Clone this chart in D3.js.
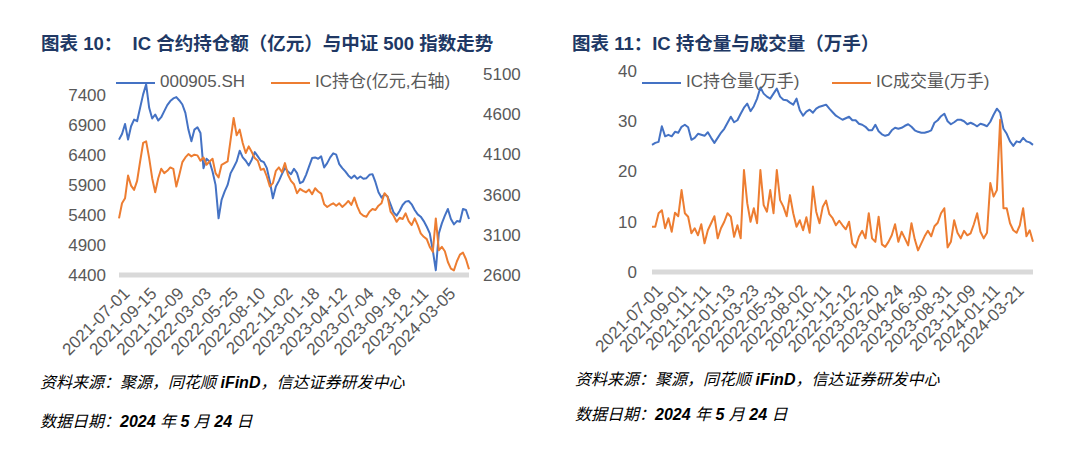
<!DOCTYPE html>
<html>
<head>
<meta charset="utf-8">
<script src="https://cdn.jsdelivr.net/npm/d3@7"></script>
<style>
  body { margin: 0; background: #fff; }
  svg { display: block; font-family: "Liberation Sans", Arial, "Noto Sans CJK SC", sans-serif; }
</style>
</head>
<body>
<script>
// one value every 6 trading days, 2021-07-01 .. 2024-05-24
const STEP = 6;

// 中证500 (left axis of chart 10)
const csi500 = [6656,6751,6918,6656,6879,6991,6963,7186,7410,7577,
  7186,7008,7075,6974,7030,7131,7231,7298,7343,7365,
  7309,7242,7103,6823,6628,6823,6862,6768,6181,6338,
  6293,6126,5902,5344,5651,5790,5902,6098,6193,6293,
  6472,6360,6304,6226,6321,6449,6377,6304,6282,6181,
  5958,5679,5874,5969,6081,6181,6126,6081,6170,6098,
  5930,5958,6070,6209,6349,6360,6338,6377,6193,6265,
  6360,6427,6405,6248,6181,6126,6059,6014,6059,6003,
  6042,6003,6014,6070,6081,5947,5779,5690,5746,5707,
  5578,5444,5389,5467,5567,5623,5634,5578,5484,5411,
  5372,5299,5204,5093,4813,4479,5093,5260,5389,5500,
  5333,5244,5299,5288,5500,5483,5333];

// IC持仓 亿元 (right axis of chart 10)
const icOiValue = [3304,3492,3554,3837,3712,3658,3771,4012,4242,4262,
  4054,3804,3629,3804,3921,3867,3896,3938,3921,3700,
  3846,4004,4062,4104,4075,4096,4088,4021,4062,3971,
  4012,4046,3867,3812,3971,3992,4012,4283,4554,4337,
  4408,4242,4117,4200,4129,4054,4021,3908,3921,3825,
  3700,3742,3896,3938,3879,3992,3846,3771,3729,3617,
  3671,3646,3629,3662,3604,3679,3638,3612,3479,3446,
  3471,3492,3462,3492,3446,3479,3521,3471,3562,3450,
  3367,3337,3325,3388,3421,3408,3462,3492,3617,3575,
  3388,3337,3262,3312,3296,3367,3271,3221,3304,3221,
  3117,3075,3046,2950,2888,3304,2908,2950,2896,2762,
  2679,2658,2771,2854,2879,2796,2671];

// IC持仓量 万手 (chart 11)
const icOi = [25.3,25.7,25.9,29.0,27.0,27.3,27.0,27.9,27.7,28.9,
  29.3,28.8,26.3,26.7,27.5,27.3,27.1,27.8,26.7,25.7,
  26.7,27.7,28.5,29.7,30.9,29.8,30.2,31.5,32.7,33.5,
  32.0,33.0,34.5,36.7,35.5,34.9,34.5,35.5,36.5,34.9,
  34.3,34.2,33.7,33.3,34.5,32.2,31.1,31.9,32.3,31.7,
  32.5,32.9,33.1,33.3,32.5,31.8,31.1,30.7,30.3,30.6,
  30.9,30.2,30.2,29.5,29.3,28.9,28.2,28.2,29.3,28.0,
  27.4,27.1,27.3,28.2,28.7,28.5,28.7,29.1,29.4,28.9,
  28.2,27.9,27.7,27.7,27.9,28.2,29.7,30.2,31.0,31.5,
  30.0,29.4,29.8,30.3,30.3,30.0,29.4,29.7,29.4,29.0,
  29.5,29.3,29.0,29.9,31.3,32.5,31.7,28.5,27.5,26.0,
  25.1,26.0,25.8,26.7,26.0,25.8,25.3];

// IC成交量 万手 (chart 11)
const icVolume = [9.0,9.0,11.7,12.3,8.7,10.7,8.0,11.8,11.1,16.3,
  11.7,11.0,7.7,8.7,7.3,9.5,5.7,8.3,9.7,11.1,
  6.7,8.7,10.0,11.7,11.0,7.0,9.3,6.7,20.3,13.7,
  10.0,12.7,9.7,20.3,13.3,12.0,16.3,11.7,20.3,14.3,
  13.0,11.1,15.3,11.7,9.0,10.3,8.3,10.9,7.8,17.0,
  12.0,9.7,13.0,14.2,11.5,10.7,9.3,10.2,9.3,8.5,
  10.0,5.7,4.9,7.0,8.2,6.7,11.7,6.7,6.0,11.0,
  5.5,5.0,6.0,7.3,9.5,6.0,8.0,6.7,5.3,9.7,
  6.5,4.3,5.7,7.1,8.2,7.1,9.1,9.8,11.7,12.7,
  4.9,6.0,10.3,7.8,6.7,8.2,7.3,7.7,9.5,11.7,
  8.0,6.7,7.8,17.7,15.0,16.3,30.3,12.7,12.7,9.7,
  8.3,7.8,9.3,12.7,7.1,8.3,6.0];

// category labels (every 54 / 44 trading days)
const leftTicks = ["2021-07-01","2021-09-15","2021-12-09","2022-03-03","2022-05-25","2022-08-10",
  "2022-11-02","2023-01-18","2023-04-12","2023-07-04","2023-09-18","2023-12-11","2024-03-05"];
const rightTicks = ["2021-07-01","2021-09-01","2021-11-11","2022-01-13","2022-03-23","2022-05-31",
  "2022-08-02","2022-10-11","2022-12-12","2023-02-20","2023-04-24","2023-06-30","2023-08-31",
  "2023-11-09","2024-01-11","2024-03-21"];

const leftAxisTicks = [4400, 4900, 5400, 5900, 6400, 6900, 7400];
const rightAxisTicks = [2600, 3100, 3600, 4100, 4600, 5100];
const volAxisTicks = [0, 10, 20, 30, 40];

const BLUE = "#4472c4", ORANGE = "#ed7d31", GREY = "#595959";

const svg = d3.select("body").append("svg")
  .attr("width", 1080)
  .attr("height", 457);

svg.append("rect").attr("width", 1080).attr("height", 457).attr("fill", "#fff");

// titles
function title(x, y, txt) {
  svg.append("text")
    .attr("x", x).attr("y", y)
    .attr("dominant-baseline", "middle")
    .style("white-space", "pre")
    .attr("font-size", 18.5)
    .attr("font-weight", "bold")
    .attr("fill", "#203864")
    .text(txt);
}
title(41, 45, "图表 10：  IC 合约持仓额（亿元）与中证 500 指数走势");
title(572, 45, "图表 11：IC 持仓量与成交量（万手）");

// footers
function footer(x, y, parts) {
  const t = svg.append("text")
    .attr("x", x).attr("y", y)
    .attr("dominant-baseline", "middle")
    .attr("font-size", 16)
    .attr("font-style", "italic")
    .attr("fill", "#000")
    .style("white-space", "pre");
  parts.forEach(p => {
    t.append("tspan").attr("font-weight", p[1] ? "bold" : "normal").text(p[0]);
  });
}
footer(40, 384, [["资料来源：聚源，同花顺 ", 0], ["iFinD", 1], ["，信达证券研发中心", 0]]);
footer(40, 423, [["数据日期：", 0], ["2024", 1], [" 年 ", 0], ["5", 1], [" 月 ", 0], ["24", 1], [" 日", 0]]);
footer(575, 381, [["资料来源：聚源，同花顺 ", 0], ["iFinD", 1], ["，信达证券研发中心", 0]]);
footer(575, 416, [["数据日期：", 0], ["2024", 1], [" 年 ", 0], ["5", 1], [" 月 ", 0], ["24", 1], [" 日", 0]]);

function drawChart(opt) {
  const g = svg.append("g");
  const lastDay = (opt.series[0].values.length - 1) * STEP;

  const x = d3.scaleLinear().domain([0, lastDay]).range([opt.x0, opt.x1]);

  // y axes
  opt.axes.forEach(a => {
    const ax = (a.side === "left" ? d3.axisLeft(a.scale) : d3.axisRight(a.scale))
      .tickValues(a.ticks)
      .tickSize(0)
      .tickPadding(0)
      .tickFormat(d3.format("d"));
    const ag = g.append("g")
      .attr("transform", `translate(${a.pos},0)`)
      .call(ax);
    ag.select(".domain").remove();
    ag.selectAll("text")
      .attr("fill", GREY)
      .attr("font-size", 17)
      .attr("font-family", "Liberation Sans, Arial, sans-serif");
  });

  // category axis: thick light grey line
  g.append("line")
    .attr("x1", opt.x0).attr("x2", opt.x1)
    .attr("y1", opt.yBottom).attr("y2", opt.yBottom)
    .attr("stroke", "#d9d9d9")
    .attr("stroke-width", 5);

  g.append("g")
    .selectAll("text")
    .data(opt.tickLabels)
    .join("text")
    .attr("transform", (d, i) => `translate(${x(i * opt.tickStep) + 3},${opt.yBottom + 11}) rotate(-45)`)
    .attr("text-anchor", "end")
    .attr("dy", "0.72em")
    .attr("font-size", 17)
    .attr("fill", GREY)
    .text(d => d);

  // series
  opt.series.forEach(s => {
    const line = d3.line()
      .x((d, i) => x(i * STEP))
      .y(d => s.scale(d));
    g.append("path")
      .datum(s.values)
      .attr("d", line)
      .attr("fill", "none")
      .attr("stroke", s.color)
      .attr("stroke-width", 2)
      .attr("stroke-linejoin", "round");
  });

  // legend
  opt.series.forEach(s => {
    g.append("line")
      .attr("x1", s.legend[0]).attr("x2", s.legend[0] + 39)
      .attr("y1", opt.legendY).attr("y2", opt.legendY)
      .attr("stroke", s.color)
      .attr("stroke-width", 2);
    g.append("text")
      .attr("x", s.legend[0] + 44)
      .attr("y", opt.legendY)
      .attr("dominant-baseline", "middle")
      .attr("font-size", 17)
      .attr("fill", GREY)
      .text(s.name);
  });
}

// chart 10
const yCsi = d3.scaleLinear().domain([4400, 7750]).range([275, 74]);
const yIcVal = d3.scaleLinear().domain([2600, 5100]).range([275, 74]);
drawChart({
  x0: 119, x1: 469, yBottom: 275, legendY: 83,
  tickLabels: leftTicks, tickStep: 54,
  axes: [
    { side: "left", scale: yCsi, ticks: leftAxisTicks, pos: 106 },
    { side: "right", scale: yIcVal, ticks: rightAxisTicks, pos: 483 }
  ],
  series: [
    { name: "000905.SH", values: csi500, scale: yCsi, color: BLUE, legend: [116] },
    { name: "IC持仓(亿元,右轴)", values: icOiValue, scale: yIcVal, color: ORANGE, legend: [271] }
  ]
});

// chart 11
const yVol = d3.scaleLinear().domain([0, 40]).range([272, 71]);
drawChart({
  x0: 652, x1: 1033, yBottom: 272, legendY: 83,
  tickLabels: rightTicks, tickStep: 44,
  axes: [
    { side: "left", scale: yVol, ticks: volAxisTicks, pos: 637 }
  ],
  series: [
    { name: "IC持仓量(万手)", values: icOi, scale: yVol, color: BLUE, legend: [642] },
    { name: "IC成交量(万手)", values: icVolume, scale: yVol, color: ORANGE, legend: [832] }
  ]
});
</script>
</body>
</html>
